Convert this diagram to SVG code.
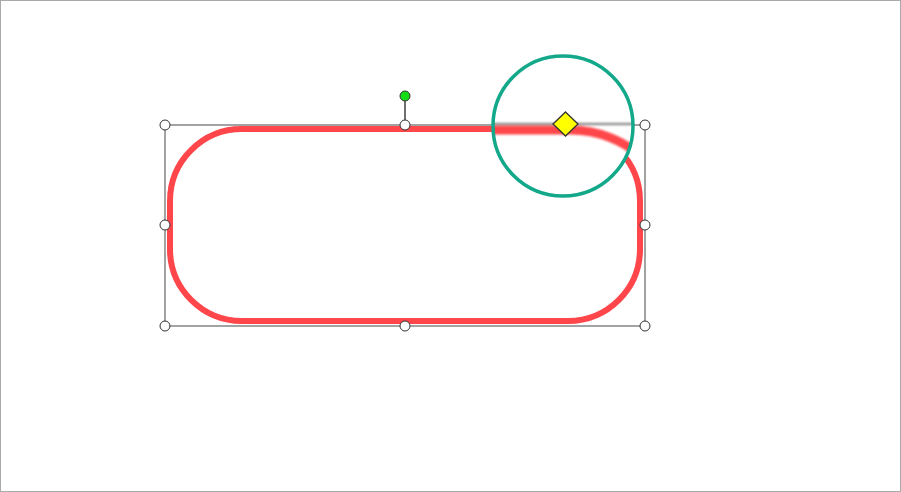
<svg xmlns="http://www.w3.org/2000/svg" width="901" height="492" viewBox="0 0 901 492">
<defs>
<style>
.shape{fill:none;stroke:#ff464b;stroke-width:6}
.sel{fill:none;stroke:#8c8c8c;stroke-width:1.6}
.handle{fill:#ffffff;stroke:#333333;stroke-width:1}
</style>
<clipPath id="lens"><circle cx="563" cy="126" r="70"/></clipPath>
<filter id="blur" x="-20%" y="-20%" width="140%" height="140%"><feGaussianBlur stdDeviation="0.6"/></filter>
</defs>
<rect x="0.5" y="0.5" width="900" height="491" fill="#ffffff" stroke="#aaaaaa" stroke-width="1"/>
<g id="shape">
<rect class="shape" x="170" y="129" width="470" height="192" rx="72" ry="72"/>
</g>
<g id="selection">
<rect class="sel" x="165" y="125" width="480" height="201"/>
<line x1="405" y1="100" x2="405" y2="121" stroke="#222222" stroke-width="1.3"/>
</g>
<g id="magnifier">
<circle cx="563" cy="126" r="70" fill="#ffffff"/>
<g clip-path="url(#lens)">
<g filter="url(#blur)" transform="translate(563 127) scale(1.5) translate(-563 -127)">
<rect class="shape" x="170" y="129" width="470" height="192" rx="72" ry="72"/>
<rect class="sel" x="165" y="125" width="480" height="201"/>
</g>
</g>
<circle cx="563" cy="126" r="70" fill="none" stroke="#13a88a" stroke-width="3.5"/>
</g>
<g id="handles">
<circle class="handle" cx="165" cy="125" r="5"/>
<circle class="handle" cx="405" cy="125" r="5"/>
<circle class="handle" cx="645" cy="125" r="5"/>
<circle class="handle" cx="165" cy="225" r="5"/>
<circle class="handle" cx="645" cy="225" r="5"/>
<circle class="handle" cx="165" cy="326" r="5"/>
<circle class="handle" cx="405" cy="326" r="5"/>
<circle class="handle" cx="645" cy="326" r="5"/>
<circle cx="405" cy="96" r="5" fill="#16dc16" stroke="#333333" stroke-width="1"/>
</g>
<g id="adjust">
<polygon points="565.5,112 578,124 565.5,136 553,124" fill="#ffff00" stroke="#333333" stroke-width="1.3"/>
</g>
</svg>
